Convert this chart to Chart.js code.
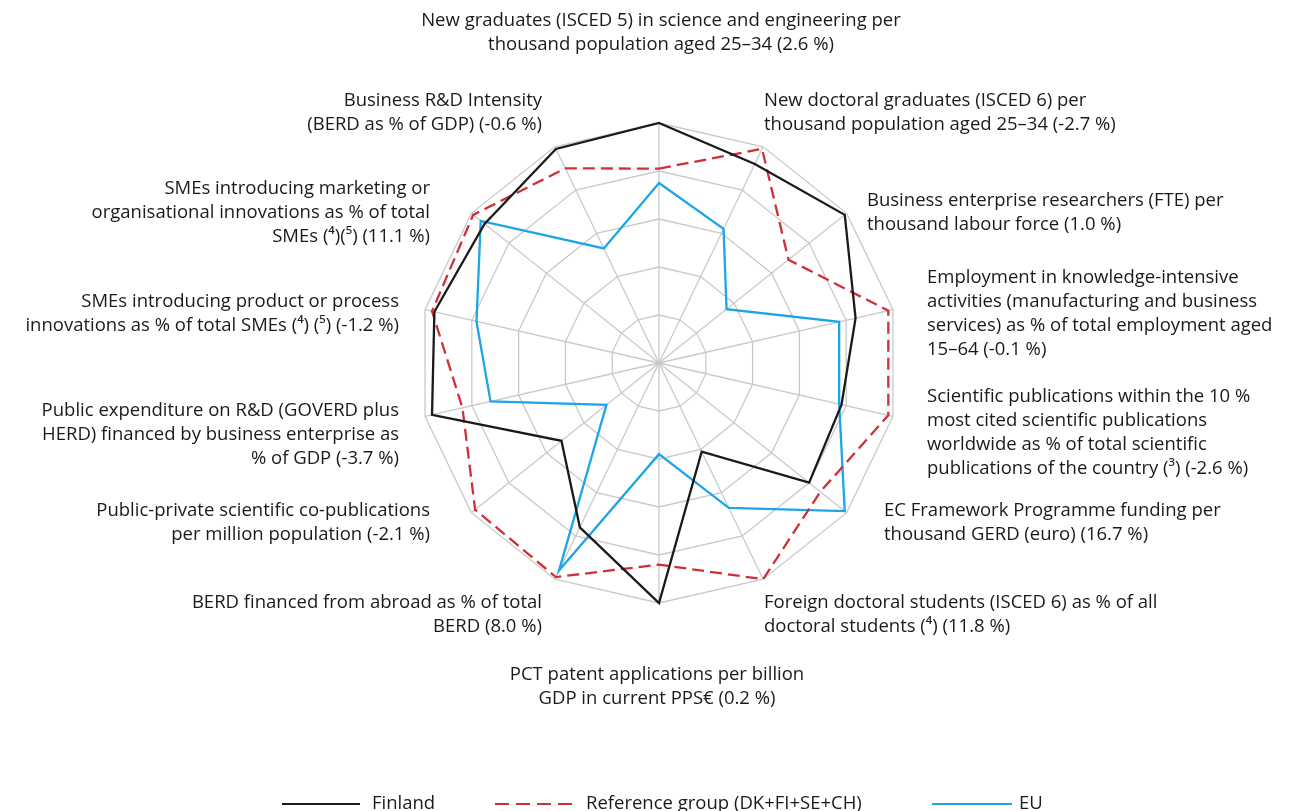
<!DOCTYPE html>
<html>
<head>
<meta charset="utf-8">
<script src="https://cdn.jsdelivr.net/npm/chart.js@4/dist/chart.umd.min.js"></script>
<style>
  body { margin: 0; background: #fff; }
  #wrap { width: 1295px; height: 811px; position: relative; }
</style>
</head>
<body>
<div id="wrap"><canvas id="radar-canvas"></canvas></div>
<script>
// axis labels, clockwise from the top
var categories = [
    ["New graduates (ISCED 5) in science and engineering per", "thousand population aged 25\u201334 (2.6 %)"],
    ["New doctoral graduates (ISCED 6) per", "thousand population aged 25\u201334 (-2.7 %)"],
    ["Business enterprise researchers (FTE) per", "thousand labour force (1.0 %)"],
    ["Employment in knowledge-intensive", "activities (manufacturing and business", "services) as % of total employment aged", "15\u201364 (-0.1 %)"],
    ["Scientific publications within the 10 %", "most cited scientific publications", "worldwide as % of total scientific", "publications of the country (\u00b3) (-2.6 %)"],
    ["EC Framework Programme funding per", "thousand GERD (euro) (16.7 %)"],
    ["Foreign doctoral students (ISCED 6) as % of all", "doctoral students (\u2074) (11.8 %)"],
    ["PCT patent applications per billion", "GDP in current PPS\u20ac (0.2 %)"],
    ["BERD financed from abroad as % of total", "BERD (8.0 %)"],
    ["Public-private scientific co-publications", "per million population (-2.1 %)"],
    ["Public expenditure on R&D (GOVERD plus", "HERD) financed by business enterprise as", "% of GDP (-3.7 %)"],
    ["SMEs introducing product or process", "innovations as % of total SMEs (\u2074) (\u2075) (-1.2 %)"],
    ["SMEs introducing marketing or", "organisational innovations as % of total", "SMEs (\u2074)(\u2075) (11.1 %)"],
    ["Business R&D Intensity", "(BERD as % of GDP) (-0.6 %)"]
];

var seriesNames = ["Finland", "Reference group (DK+FI+SE+CH)", "EU"];
var finland  = [1.00, 0.92, 0.99, 0.84, 0.78, 0.80, 0.41, 1.00, 0.76, 0.52, 0.97, 0.96, 0.93, 0.99];
var refGroup = [0.81, 0.99, 0.69, 0.98, 0.98, 0.86, 1.00, 0.84, 0.99, 0.98, 0.84, 0.97, 0.99, 0.90];
var eu       = [0.75, 0.62, 0.36, 0.77, 0.77, 0.99, 0.67, 0.38, 0.96, 0.28, 0.72, 0.78, 0.95, 0.53];

// where each label block sits: anchor x, y of first line, alignment
var labelPos = [
    [661, 21, "center"], [764, 101, "left"], [867, 201, "left"], [927, 278, "left"],
    [927, 397, "left"], [884, 511, "left"], [764, 603, "left"], [657, 675, "center"],
    [542, 603, "right"], [430, 511, "right"], [399, 411, "right"], [399, 302, "right"],
    [430, 189, "right"], [542, 101, "right"]
];
var lineGap = 24;
var textFont = "18.5px 'Open Sans', sans-serif";

var colors = ["#1a1a1a", "#cf3038", "#1ea5e6"];
var dashes = [[], [12, 6], []];

var labelsPlugin = {
    id: "axisText",
    afterDraw: function (chart) {
        var ctx = chart.ctx;
        ctx.save();
        ctx.font = textFont;
        ctx.fillStyle = "#1a1a1a";
        ctx.textBaseline = "middle";
        categories.forEach(function (lines, i) {
            ctx.textAlign = labelPos[i][2];
            lines.forEach(function (txt, k) {
                ctx.fillText(txt, labelPos[i][0], labelPos[i][1] + k * lineGap);
            });
        });

        // legend along the bottom edge
        var legendX = [[282, 360, 372], [495, 573, 586], [932, 1012, 1019]];
        var ly = 804;
        ctx.textAlign = "left";
        for (var j = 0; j < 3; j++) {
            ctx.beginPath();
            ctx.setLineDash(dashes[j].length ? [14, 7] : []);
            ctx.strokeStyle = colors[j];
            ctx.lineWidth = 2;
            ctx.moveTo(legendX[j][0], ly);
            ctx.lineTo(legendX[j][1], ly);
            ctx.stroke();
            ctx.setLineDash([]);
            ctx.fillText(seriesNames[j], legendX[j][2], ly);
        }
        ctx.restore();
    }
};

var chartdata = {
    labels: categories.map(function (c) { return c.join(" "); }),
    datasets: [
        { label: seriesNames[0], data: finland, borderColor: colors[0], borderDash: dashes[0] },
        { label: seriesNames[1], data: refGroup, borderColor: colors[1], borderDash: dashes[1] },
        { label: seriesNames[2], data: eu, borderColor: colors[2], borderDash: dashes[2] }
    ]
};
chartdata.datasets.forEach(function (ds) {
    ds.fill = false;
    ds.borderWidth = 2.3;
    ds.pointRadius = 0;
    ds.tension = 0;
    ds.backgroundColor = "transparent";
});

var ctx = document.getElementById("radar-canvas");
var radarChart = new Chart(ctx, {
    type: "radar",
    data: chartdata,
    plugins: [labelsPlugin],
    options: {
        responsive: true,
        maintainAspectRatio: false,
        animation: false,
        layout: { padding: { top: 123, bottom: 208, left: 300, right: 277 } },
        plugins: { legend: { display: false }, tooltip: { enabled: false } },
        scales: {
            r: {
                min: 0,
                max: 1,
                ticks: { display: false, stepSize: 0.2 },
                grid: { color: "#c9c9c9", lineWidth: 1.3 },
                angleLines: { color: "#c9c9c9", lineWidth: 1.3 },
                pointLabels: { display: false }
            }
        }
    }
});
</script>
</body>
</html>
